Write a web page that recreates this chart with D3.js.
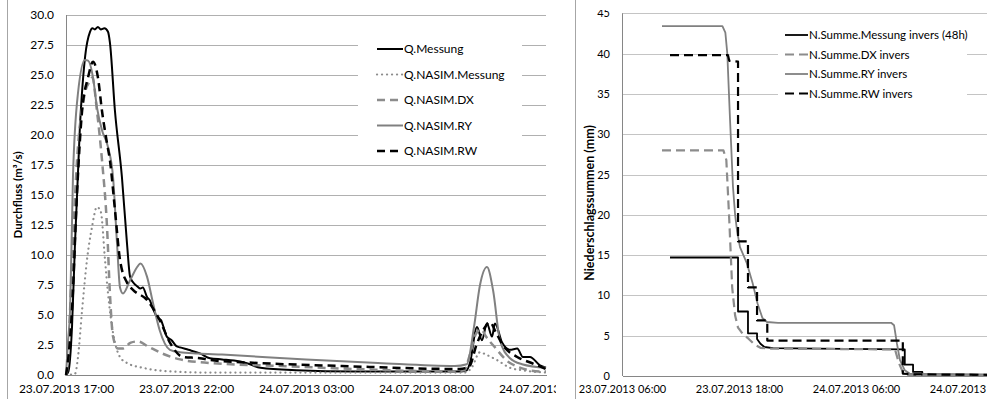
<!DOCTYPE html>
<html>
<head>
<meta charset="utf-8">
<script src="https://cdn.jsdelivr.net/npm/d3@7"></script>
<style>
body { margin: 0; background: #fff; }
svg { display: block; font-family: Lato, "Open Sans", sans-serif; }
</style>
</head>
<body>
<script>
const parseT = d3.timeParse("%d.%m.%Y %H:%M");
const HOUR = 3600000;

// ---- left chart: Durchfluss, hours after 23.07.2013 17:00
const qStart = "23.07.2013 17:00";
const qEnd = "24.07.2013 13:00";
const qTickLabels = ["23.07.2013 17:00", "23.07.2013 22:00", "24.07.2013 03:00", "24.07.2013 08:00", "24.07.2013 13:00"];
const qYTicks = [0, 2.5, 5, 7.5, 10, 12.5, 15, 17.5, 20, 22.5, 25, 27.5, 30];
const qNames = ["Q.Messung", "Q.NASIM.Messung", "Q.NASIM.DX", "Q.NASIM.RY", "Q.NASIM.RW"];

const qMessung = [[0,0],[0.1,0.3],[0.25,4],[0.375,11],[0.58,20.7],[0.8,26.6],[1.0,28.6],[1.1,28.9],[1.2,28.8],[1.33,29.0],[1.45,28.8],[1.6,28.9],[1.75,28.6],[1.83,27.7],[2.04,22],[2.33,16.5],[2.54,11],[2.67,8.2],[2.85,7.6],[2.96,7.4],[3.1,7.2],[3.2,7.3],[3.375,6.5],[3.5,6.2],[3.65,5.4],[3.8,4.8],[3.95,4.6],[4.2,3.2],[4.4,2.9],[4.6,2.4],[4.75,2.3],[5.1,2.1],[5.58,1.8],[6.0,1.4],[6.5,1.3],[7.0,1.2],[7.5,1.0],[8.1,0.6],[9.6,0.4],[12,0.3],[16.4,0.3],[16.7,0.4],[16.83,1.0],[17.125,4.0],[17.33,2.9],[17.54,4.3],[17.75,3.2],[17.875,4.3],[18.17,2.7],[18.5,2.1],[18.8,2.2],[19.04,1.5],[19.33,1.5],[19.75,0.8],[20,0.6]];
const qNasimMessung = [[0,0],[0.375,0.1],[0.5,1.5],[0.67,5.4],[0.875,9.6],[1.08,12.3],[1.29,14],[1.45,13.6],[1.625,9.6],[1.75,6.8],[1.96,3.5],[2.25,1.5],[2.54,1.0],[3.2,0.6],[4.33,0.3],[6,0.2],[16.6,0.2],[16.9,0.6],[17.25,1.9],[17.5,1.7],[18.0,1.2],[18.5,0.6],[19.0,0.4],[20,0.2]];
const qNasimDX = [[0,0],[0.08,1],[0.17,5.4],[0.46,17.9],[0.79,23.5],[1.0,24.5],[1.1,24.8],[1.29,22],[1.5,17.9],[1.71,12.3],[1.83,6.8],[1.96,3.2],[2.17,2.2],[2.35,2.2],[2.7,2.7],[3.0,2.8],[3.4,2.4],[4,1.8],[4.75,1.3],[6,1.0],[9,0.75],[12,0.5],[16,0.3],[16.6,0.4],[16.8,1.5],[17.1,3.5],[17.3,3.8],[17.5,3.2],[17.875,2.3],[18.5,1.0],[19.75,0.3],[20,0.3]];
const qNasimRY = [[0,0],[0.08,2.7],[0.17,5.4],[0.29,16.5],[0.5,23.5],[0.79,26.25],[0.92,26.2],[1.125,24.8],[1.29,22.3],[1.5,20.4],[1.75,19],[1.96,16.5],[2.125,11],[2.25,7.3],[2.375,6.8],[2.67,7.9],[3.0,9.1],[3.1,9.3],[3.375,8.2],[3.625,6],[3.9,3.75],[4.33,2.1],[4.75,1.9],[5.5,1.8],[6.5,1.7],[10,1.3],[13,1.0],[16.2,0.75],[16.7,0.9],[17.0,4],[17.25,7.5],[17.54,9.0],[17.8,7.0],[18.08,2.9],[18.5,1.4],[19.0,0.9],[20,0.6]];
const qNasimRW = [[0,0],[0.04,0.5],[0.25,5.4],[0.46,15.2],[0.67,22],[0.92,24.8],[1.125,26.1],[1.33,24.8],[1.5,22],[1.71,19.3],[1.83,17.9],[2.04,13.75],[2.25,9.6],[2.54,7.7],[2.79,7.1],[3.375,6.25],[3.9,4.6],[4.33,2.7],[4.875,1.5],[5.58,1.4],[6.0,1.25],[8,1.0],[11.5,0.75],[16.4,0.5],[16.8,0.7],[17.1,2.5],[17.4,3.8],[17.67,4.4],[17.9,3.6],[18.2,2.5],[18.8,1.5],[19.4,1.0],[20,0.5]];

// ---- right chart: Niederschlagssummen, hours after 23.07.2013 06:00
const nStart = "23.07.2013 06:00";
const nEnd = "24.07.2013 19:26";
const nTickLabels = ["23.07.2013 06:00", "23.07.2013 18:00", "24.07.2013 06:00", "24.07.2013 18:00"];
const nYTicks = [0, 5, 10, 15, 20, 25, 30, 35, 40, 45];
const nNames = ["N.Summe.Messung invers (48h)", "N.Summe.DX invers", "N.Summe.RY invers", "N.Summe.RW invers"];

const nMessung = [[4.92,14.7],[11.9,14.7],[11.9,8.0],[12.92,8.0],[12.92,5.3],[13.85,5.3],[13.85,4.6],[14.2,4.0],[14.6,3.6],[15.5,3.45],[20,3.4],[29.0,3.3],[29.0,1.4],[29.85,1.4],[29.85,0.5],[30.8,0.5],[30.8,0.2],[37.5,0.1]];
const nDX = [[4.1,28.0],[10.4,28.0],[10.7,26.8],[11.0,19.4],[11.3,11],[11.6,7.5],[11.9,6.0],[12.4,5.2],[13.0,4.6],[13.6,3.9],[14.2,3.5],[15,3.4],[28.0,3.3],[28.4,1.6],[28.8,0.5],[29.3,0.15],[37.5,0.1]];
const nRY = [[4.1,43.4],[10.3,43.4],[10.6,42.6],[10.8,40],[11.08,31.8],[11.38,23.5],[11.6,20],[11.8,18],[12.1,16],[12.8,14],[13.4,11.5],[13.9,9],[14.4,7.2],[14.87,6.7],[16,6.6],[27.6,6.6],[27.9,6.3],[28.2,4],[28.5,2.0],[29.0,0.7],[29.5,0.3],[37.5,0.2]];
const nRW = [[4.92,39.8],[10.87,39.8],[11.0,39.1],[11.9,39.0],[11.9,16.7],[12.92,16.7],[12.92,11.0],[13.85,11.0],[13.85,6.9],[14.9,6.9],[14.9,4.4],[28.8,4.4],[28.8,0.3],[30,0.2],[37.5,0.15]];

const qSeries = [qMessung, qNasimMessung, qNasimDX, qNasimRY, qNasimRW];
const nSeries = [nMessung, nDX, nRY, nRW];

const qStyles = [
	{stroke: "#000", width: 2, dash: null},
	{stroke: "#8c8c8c", width: 2.2, dash: "0.1,4.9", cap: "round"},
	{stroke: "#8c8c8c", width: 2.5, dash: "8,5"},
	{stroke: "#808080", width: 2, dash: null},
	{stroke: "#000", width: 2.5, dash: "8,5"}
];
const nStyles = [
	{stroke: "#000", width: 1.8, dash: null},
	{stroke: "#8c8c8c", width: 2.2, dash: "9,5"},
	{stroke: "#808080", width: 1.8, dash: null},
	{stroke: "#000", width: 2.2, dash: "9,5"}
];

const W = 987, H = 399;

let svg = d3.select("body").append("svg")
	.attr("width", W)
	.attr("height", H);

// chart frame edges
svg.append("line").attr("x1", 7.5).attr("x2", 7.5).attr("y1", 0).attr("y2", H)
	.attr("stroke", "#a6a6a6");
svg.append("line").attr("x1", 575.5).attr("x2", 575.5).attr("y1", 0).attr("y2", H)
	.attr("stroke", "#a6a6a6");

let defs = svg.append("defs");
defs.append("clipPath").attr("id", "clipL")
	.append("rect").attr("x", 8).attr("y", 0).attr("width", 548).attr("height", H);
defs.append("clipPath").attr("id", "clipR")
	.append("rect").attr("x", 576).attr("y", 10).attr("width", W - 576).attr("height", H - 10);

function hoursFrom(start, h) {
	return new Date(parseT(start).getTime() + h * HOUR);
}

function drawChart(opt) {
	let g = svg.append("g").attr("clip-path", opt.clip);

	let x = d3.scaleTime()
		.domain([parseT(opt.start), parseT(opt.end)])
		.range(opt.xRange);
	let y = d3.scaleLinear()
		.domain([0, d3.max(opt.yTicks)])
		.range(opt.yRange);

	// gridlines
	g.append("g")
		.attr("transform", `translate(${opt.xRange[0]},0)`)
		.call(d3.axisLeft(y).tickValues(opt.yTicks.slice(1)).tickSize(-(opt.xRange[1] - opt.xRange[0])).tickFormat(""))
		.call(a => a.select(".domain").remove())
		.call(a => a.selectAll("line").attr("stroke", opt.grid).attr("shape-rendering", "crispEdges"));

	// legend box hides gridlines behind it
	g.append("rect")
		.attr("x", opt.legend.x0).attr("y", opt.legend.y0)
		.attr("width", opt.legend.w).attr("height", opt.legend.h)
		.attr("fill", "#fff");

	// y tick labels
	g.append("g")
		.attr("transform", `translate(${opt.xRange[0]},0)`)
		.call(d3.axisLeft(y).tickValues(opt.yTicks).tickSize(0).tickPadding(opt.yPad).tickFormat(opt.yFormat))
		.call(a => a.select(".domain").remove())
		.call(a => a.selectAll("text").attr("font-size", opt.fs).attr("fill", "#000").attr("font-family", "Lato"));

	// x axis
	g.append("g")
		.attr("transform", `translate(0,${opt.yRange[0]})`)
		.call(d3.axisBottom(x).tickValues(opt.xTicks.map(parseT)).tickSize(0).tickPadding(9)
			.tickFormat(d3.timeFormat("%d.%m.%Y %H:%M")))
		.call(a => a.select(".domain").attr("stroke", "#868686").attr("shape-rendering", "crispEdges"))
		.call(a => a.selectAll("text").attr("font-size", opt.fs).attr("fill", "#000").attr("font-family", "Lato"));

	// y axis line
	g.append("line")
		.attr("x1", opt.xRange[0] + 0.5).attr("x2", opt.xRange[0] + 0.5)
		.attr("y1", opt.yRange[1]).attr("y2", opt.yRange[0])
		.attr("stroke", "#868686");

	// y title
	g.append("text")
		.attr("transform", `translate(${opt.titleX},${opt.titleY}) rotate(-90)`)
		.attr("text-anchor", "middle")
		.attr("font-size", opt.titleFs)
		.attr("font-weight", "bold")
		.text(opt.title);

	// series
	let line = d3.line()
		.x(d => x(hoursFrom(opt.start, d[0])))
		.y(d => y(d[1]))
		.curve(opt.curve);

	opt.series.forEach((s, i) => {
		let st = opt.styles[i];
		g.append("path")
			.datum(s)
			.attr("d", line)
			.attr("fill", "none")
			.attr("stroke", st.stroke)
			.attr("stroke-width", st.width)
			.attr("stroke-dasharray", st.dash)
			.attr("stroke-linecap", st.cap || "butt")
			.attr("stroke-linejoin", "round");
	});

	// legend
	let lg = g.append("g");
	opt.names.forEach((n, i) => {
		let st = opt.styles[i];
		let ly = opt.legend.ty + i * opt.legend.step;
		lg.append("line")
			.attr("x1", opt.legend.lx).attr("x2", opt.legend.lx + opt.legend.len)
			.attr("y1", ly).attr("y2", ly)
			.attr("stroke", st.stroke)
			.attr("stroke-width", st.width)
			.attr("stroke-dasharray", st.dash)
			.attr("stroke-linecap", st.cap || "butt");
		lg.append("text")
			.attr("x", opt.legend.lx + opt.legend.len + 1)
			.attr("y", ly)
			.attr("dy", "0.35em")
			.attr("font-size", opt.legend.fs)
			.text(n);
	});
}

drawChart({
	clip: "url(#clipL)",
	start: qStart, end: qEnd,
	xRange: [66, 546], yRange: [375, 15],
	yTicks: qYTicks, xTicks: qTickLabels,
	yFormat: d3.format(".1f"), yPad: 12,
	grid: "#b0b0b0", fs: 12,
	title: "Durchfluss (m³/s)", titleX: 22, titleY: 195, titleFs: 11.5,
	series: qSeries, styles: qStyles, names: qNames,
	curve: d3.curveMonotoneX,
	legend: {x0: 358, y0: 32, w: 164, h: 124, lx: 377, len: 26, ty: 49, step: 25.5, fs: 12}
});

drawChart({
	clip: "url(#clipR)",
	start: nStart, end: nEnd,
	xRange: [622, 987], yRange: [376, 13.3],
	yTicks: nYTicks, xTicks: nTickLabels,
	yFormat: d3.format("d"), yPad: 12,
	grid: "#c4c4c4", fs: 11,
	title: "Niederschlagssummen (mm)", titleX: 594, titleY: 203, titleFs: 12.5,
	series: nSeries, styles: nStyles, names: nNames,
	curve: d3.curveLinear,
	legend: {x0: 778, y0: 22, w: 189, h: 84, lx: 785, len: 23, ty: 35, step: 19.5, fs: 11.5}
});
</script>
</body>
</html>
